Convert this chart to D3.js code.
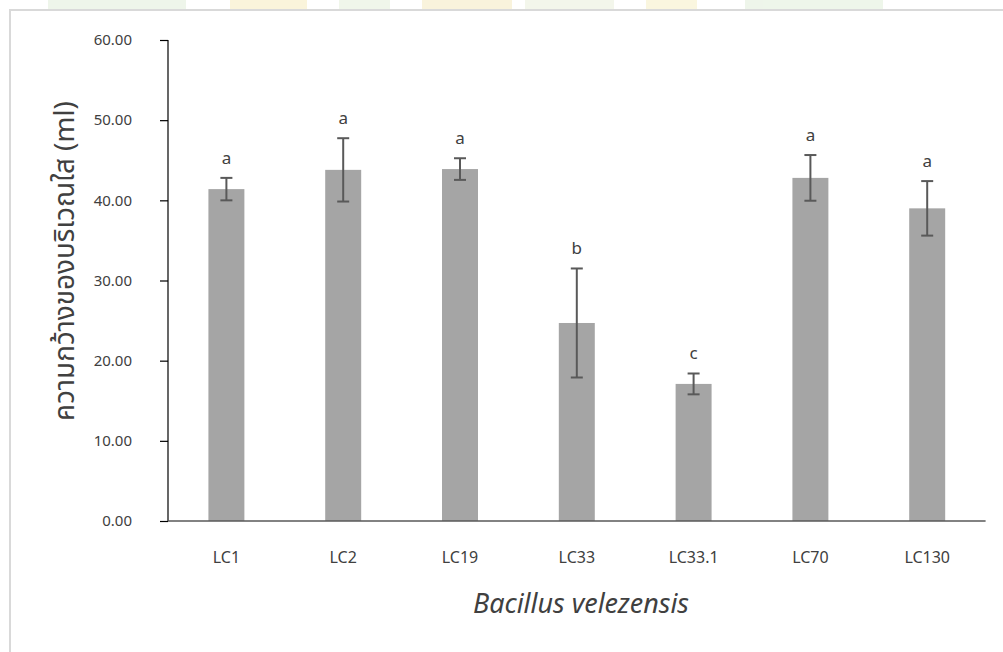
<!DOCTYPE html>
<html>
<head>
<meta charset="utf-8">
<script src="https://cdn.jsdelivr.net/npm/d3@7"></script>
<style>
  html, body { margin: 0; padding: 0; background: #ffffff; }
  svg { display: block; }
</style>
</head>
<body>
<svg id="chart" width="1003" height="652"></svg>
<script>
// Strains of Bacillus velezensis and the clear-zone width measured for each
const strains = ["LC1", "LC2", "LC19", "LC33", "LC33.1", "LC70", "LC130"];
const meanWidth = [41.4, 43.8, 43.9, 24.7, 17.1, 42.8, 39.0];
const stdError = [1.4, 3.95, 1.35, 6.8, 1.3, 2.85, 3.4];
const groupLetters = ["a", "a", "a", "b", "c", "a", "a"];
const yTicks = [0, 10, 20, 30, 40, 50, 60];

const yTitle = "ความกว้างของบริเวณใส (ml)";
const xTitle = "Bacillus velezensis";

const FONT = "'Noto Sans', 'Noto Sans Thai', 'DejaVu Sans', sans-serif";

const svg = d3.select("#chart");

// faint banner strip along the top edge
const banner = svg.append("g").attr("opacity", 0.35);
[[48, 138, "#cfe5c4"], [230, 77, "#f3e29a"], [339, 51, "#d6e6c4"], [422, 90, "#eedf9c"],
 [525, 89, "#dfe8c8"], [646, 51, "#f3e6a6"], [745, 138, "#cfe5c4"]].forEach(([bx, bw, c]) => {
  banner.append("rect").attr("x", bx).attr("y", 0).attr("width", bw).attr("height", 9).attr("fill", c);
});

// frame around the plot card
svg.append("line").attr("x1", 9).attr("x2", 1003).attr("y1", 10).attr("y2", 10)
  .attr("stroke", "#d9d9d9").attr("stroke-width", 2);
svg.append("line").attr("x1", 10).attr("x2", 10).attr("y1", 10).attr("y2", 652)
  .attr("stroke", "#d9d9d9").attr("stroke-width", 2);

const plot = { left: 168, right: 985.6, top: 40, bottom: 521 };

const x = d3.scaleBand()
  .domain(strains)
  .range([plot.left, plot.right])
  .paddingInner(0.692)
  .paddingOuter(0.346);

const y = d3.scaleLinear()
  .domain([0, 60])
  .range([plot.bottom, plot.top]);

// bars
svg.append("g").selectAll("rect")
  .data(strains)
  .join("rect")
  .attr("x", d => x(d))
  .attr("width", x.bandwidth())
  .attr("y", (d, i) => y(meanWidth[i]))
  .attr("height", (d, i) => y(0) - y(meanWidth[i]))
  .attr("fill", "#a5a5a5");

// error bars
const capHalf = 6;
const err = svg.append("g").attr("stroke", "#595959").attr("stroke-width", 2).attr("fill", "none");
strains.forEach((s, i) => {
  const cx = x(s) + x.bandwidth() / 2;
  const hi = y(meanWidth[i] + stdError[i]);
  const lo = y(meanWidth[i] - stdError[i]);
  err.append("line").attr("x1", cx).attr("x2", cx).attr("y1", hi).attr("y2", lo);
  err.append("line").attr("x1", cx - capHalf).attr("x2", cx + capHalf).attr("y1", hi).attr("y2", hi);
  err.append("line").attr("x1", cx - capHalf).attr("x2", cx + capHalf).attr("y1", lo).attr("y2", lo);
});

// significance letters above the error bars
svg.append("g").selectAll("text")
  .data(strains)
  .join("text")
  .attr("x", d => x(d) + x.bandwidth() / 2)
  .attr("y", (d, i) => y(meanWidth[i] + stdError[i]) - 14)
  .attr("text-anchor", "middle")
  .attr("font-family", FONT)
  .attr("font-size", 17)
  .attr("fill", "#404040")
  .text((d, i) => groupLetters[i]);

// y axis
const yAxis = svg.append("g")
  .attr("transform", `translate(${plot.left},0)`)
  .call(d3.axisLeft(y).tickValues(yTicks).tickFormat(d3.format(".2f")).tickSize(8).tickPadding(28));
yAxis.select(".domain").attr("stroke", "#000").attr("stroke-width", 1.2)
  .attr("d", `M0,${plot.top}V${plot.bottom}`);
yAxis.selectAll(".tick line").attr("stroke", "#000").attr("stroke-width", 1.2);
yAxis.selectAll(".tick text")
  .attr("font-family", FONT).attr("font-size", 15).attr("fill", "#404040");

// x axis
const xAxis = svg.append("g")
  .attr("transform", `translate(0,${plot.bottom})`)
  .call(d3.axisBottom(x).tickSize(0).tickPadding(0));
xAxis.select(".domain").attr("stroke", "#595959").attr("stroke-width", 1.6)
  .attr("d", `M${plot.left},0H${plot.right}`);
xAxis.selectAll(".tick text")
  .attr("font-family", FONT).attr("font-size", 16).attr("fill", "#404040")
  .attr("dy", null).attr("y", 42);

// size a title so that it spans the wanted length
function fitFont(sel, baseSize, span) {
  sel.attr("font-size", baseSize);
  const w = sel.node().getComputedTextLength();
  if (w > 0) sel.attr("font-size", baseSize * span / w);
}

// axis titles
const xt = svg.append("text")
  .attr("x", 581).attr("y", 613)
  .attr("text-anchor", "middle")
  .attr("font-family", FONT)
  .attr("font-style", "italic")
  .attr("fill", "#404040")
  .text(xTitle);
fitFont(xt, 23, 216);

const yt = svg.append("text")
  .attr("transform", "translate(74,261) rotate(-90)")
  .attr("text-anchor", "middle")
  .attr("font-family", FONT)
  .attr("fill", "#404040")
  .text(yTitle);
fitFont(yt, 20, 320);
</script>
</body>
</html>
